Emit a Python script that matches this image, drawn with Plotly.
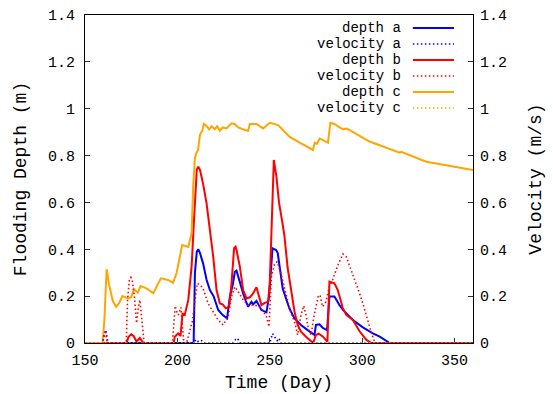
import plotly.graph_objects as go

# ---------------- data ----------------
depth_a_x = [150, 208.8, 209.5, 210.5, 211.3, 212.2, 213.9, 215.8, 217.6, 219.7, 222.1, 224.4, 226.9,
             228.4, 230, 231.1, 232, 233.8, 235.6, 237, 238.3, 240.1, 241, 242.8, 244, 245.5, 248.2,
             249.6, 251.5, 253.4, 254.3, 255.2, 256.1, 257, 258.8, 260.6, 263.4, 266.9, 270.5, 273.2,
             274.2, 275, 276.9, 278.6, 281, 282.3, 285, 287.7, 289.6, 292.3, 295, 300.4, 305.8, 309.5,
             314.9, 360]
depth_a_y = [0, 0, 0.3, 0.39, 0.40, 0.385, 0.34, 0.27, 0.226, 0.198, 0.141, 0.12, 0.105,
             0.198, 0.25, 0.304, 0.309, 0.255, 0.212, 0.18, 0.155, 0.176, 0.165, 0.18, 0.16, 0.141, 0.131,
             0.198, 0.404, 0.397, 0.385, 0.333, 0.276, 0.233, 0.19, 0.148, 0.105, 0.077, 0.055, 0.041,
             0.034, 0.077, 0.08, 0.065, 0.055, 0.198, 0.198, 0.162, 0.141, 0.12, 0.098, 0.067, 0.041, 0.027,
             0.0, 0]

vel_a_x = [150, 159.5, 160.5, 161.3, 162, 162.5, 209, 210, 211.5, 213, 215, 230, 231.5, 232.5, 234,
           250, 251.5, 252.5, 254, 255, 256, 360]
vel_a_y = [0, 0, 0.04, 0.055, 0.02, 0, 0, 0.015, 0.005, 0.01, 0, 0, 0.015, 0.02, 0,
           0, 0.04, 0.03, 0.01, 0.02, 0, 0]

depth_b_x = [150, 172.5, 173.5, 175, 176.3, 177.9, 179.7, 181.5, 198, 198.6, 200.4, 201.7, 202.8, 204,
             205.9, 207.7, 209.1, 210.5, 211.3, 212.2, 213.9, 215.8, 217.6, 219.4, 221.2, 223, 224.5,
             226.2, 228, 229.3, 230.7, 231.5, 232, 233.8, 235.6, 237.4, 239.2, 241, 242.8, 244.2, 245.5,
             247, 249.1, 250, 251.2, 252.2, 253.6, 255, 256.5, 257.9, 259.7, 261.5, 263.4, 265.1, 266.9,
             269.6, 272.3, 273.5, 275, 276.5, 278.8, 281.2, 282.3, 285, 286.8, 289.5, 291.4, 295, 298.6,
             302.3, 305, 360]
depth_b_y = [0, 0, 0.025, 0.037, 0.03, 0.006, 0.022, 0, 0, 0.027, 0.041, 0.03, 0.127, 0.12,
             0.184, 0.326, 0.54, 0.74, 0.752, 0.74, 0.68, 0.596, 0.482, 0.368, 0.226, 0.169, 0.165,
             0.148, 0.155, 0.255, 0.405, 0.411, 0.397, 0.326, 0.226, 0.19, 0.195, 0.212, 0.238, 0.198, 0.162,
             0.17, 0.176, 0.255, 0.6, 0.781, 0.71, 0.6, 0.53, 0.46, 0.32, 0.22, 0.134, 0.077, 0.048,
             0.027, 0.008, 0, 0.034, 0.04, 0.027, 0.005, 0.262, 0.255, 0.226, 0.15, 0.12, 0.098, 0.05,
             0.013, 0, 0]

vel_b_x = [150, 159.5, 160.5, 161.2, 162, 172.3, 173, 174, 174.8, 175.5, 176.7, 177.9, 178.8, 179.7,
           180.6, 181.5, 182, 197.3, 198, 198.8, 199.8, 200.5, 201.9, 202.8, 203.5, 205, 206.5, 208,
           209.5, 210.8, 212.2, 213.9, 216.6, 219.4, 222.1, 224.8, 227.5, 229.3, 231.1, 232.9, 235.6,
           238.3, 241.9, 245.5, 248.2, 249.6, 250.9, 252.7, 254, 255.8, 257.6, 259.4, 261.2, 263.4,
           265.1, 266.9, 268.4, 269.6, 270.9, 272.3, 274.4, 276.2, 277.2, 278.6, 280.4, 282.2, 284,
           286.9, 289.6, 291.4, 293.2, 295, 296.8, 298.6, 300.4, 302.3, 304, 306, 307, 360]
vel_b_y = [0, 0, 0.03, 0.045, 0, 0, 0.18, 0.27, 0.28, 0.27, 0.2, 0.085, 0.15, 0.184,
           0.112, 0.027, 0, 0, 0.1, 0.158, 0.13, 0.12, 0.152, 0.05, 0, 0, 0.05, 0.09,
           0.18, 0.255, 0.248, 0.233, 0.169, 0.134, 0.098, 0.077, 0.112, 0.198, 0.24, 0.219, 0.184,
           0.162, 0.162, 0.148, 0.112, 0.07, 0.283, 0.34, 0.347, 0.304, 0.248, 0.19, 0.134, 0.091,
           0.034, 0.12, 0.159, 0.12, 0.06, 0.034, 0.134, 0.198, 0.205, 0.155, 0.176, 0.24, 0.269,
           0.333, 0.38, 0.368, 0.33, 0.297, 0.255, 0.212, 0.169, 0.112, 0.07, 0.02, 0, 0]

depth_c_x = [150, 159.5, 160.5, 161.7, 163, 165, 166.8, 168.5, 170.2, 172, 173.4, 175, 176.5, 178.6,
             180.1, 183.3, 187, 189, 191.1, 195, 197.7, 199.6, 201, 202.6, 205.9, 207.7, 208.5, 209.5,
             210.2, 211.2, 212.2, 213.6, 214.3, 215.8, 217.2, 218.5, 220.3, 221.5, 223, 224.5, 226.6,
             229.3, 231, 232.9, 236.5, 238.3, 239.2, 242.8, 246.4, 250, 254.5, 260.8, 266.2, 269.8,
             273.4, 274.3, 275.5, 277, 279.7, 281.5, 282.8, 285, 287, 289.6, 291.4, 293, 304, 320.3,
             321.2, 334.7, 360]
depth_c_y = [0, 0, 0.1, 0.315, 0.25, 0.18, 0.155, 0.17, 0.20, 0.195, 0.19, 0.195, 0.23, 0.215,
             0.243, 0.233, 0.212, 0.245, 0.276, 0.269, 0.257, 0.30, 0.36, 0.418, 0.41, 0.468, 0.66, 0.79,
             0.81, 0.824, 0.888, 0.909, 0.935, 0.926, 0.912, 0.925, 0.912, 0.925, 0.906, 0.92, 0.916,
             0.938, 0.935, 0.92, 0.909, 0.906, 0.935, 0.935, 0.916, 0.94, 0.93, 0.88, 0.855, 0.841,
             0.824, 0.855, 0.85, 0.873, 0.864, 0.855, 0.94, 0.935, 0.925, 0.912, 0.915, 0.91, 0.86, 0.812,
             0.816, 0.774, 0.738]

vel_c_x = [150, 360]
vel_c_y = [0, 0]

y_ticks = [0, 0.2, 0.4, 0.6, 0.8, 1.0, 1.2, 1.4]
y_tick_text = ["0", "0.2", "0.4", "0.6", "0.8", "1", "1.2", "1.4"]
x_ticks = [150, 200, 250, 300, 350]

series = [
    ("depth a", depth_a_x, depth_a_y, "#0000ff", "solid", "y"),
    ("velocity a", vel_a_x, vel_a_y, "#0000ff", "dot", "y2"),
    ("depth b", depth_b_x, depth_b_y, "#ff0000", "solid", "y"),
    ("velocity b", vel_b_x, vel_b_y, "#ff0000", "dot", "y2"),
    ("depth c", depth_c_x, depth_c_y, "#ffa500", "solid", "y"),
    ("velocity c", vel_c_x, vel_c_y, "#ffa500", "dot", "y2"),
]

FONT = "Liberation Mono, Courier New, monospace"
FS = 15
LEG_FS = 14
DOT = "1.5px,2.5px"

fig = go.Figure()
for name, xs, ys, col, style, ax in series:
    dash = "solid" if style == "solid" else DOT
    fig.add_trace(go.Scatter(x=xs, y=ys, name=name, mode="lines", yaxis=ax,
                             line=dict(color=col, width=2 if style == "solid" else 1.6, dash=dash),
                             showlegend=False))

# custom gnuplot-style legend (text right, sample on its right); rows 16 px apart
PLOT_H = 394 - 15 - 51
row_px = [28, 44, 60, 76, 92, 108]
row_y = [(343 - p) / PLOT_H for p in row_px]
for (name, xs, ys, col, style, ax), ry in zip(series, row_y):
    fig.add_annotation(xref="paper", yref="paper", x=0.817, y=ry, text=name, showarrow=False,
                       xanchor="right", yanchor="middle", borderpad=0,
                       font=dict(family=FONT, size=LEG_FS, color="black"))
    fig.add_shape(type="line", xref="paper", yref="paper", x0=0.845, x1=0.951, y0=ry, y1=ry,
                  line=dict(color=col, width=2 if style == "solid" else 1.6,
                            dash="solid" if style == "solid" else DOT))

fig.update_layout(
    width=553, height=394,
    margin=dict(l=85, r=80, t=15, b=51, autoexpand=False),
    paper_bgcolor="white", plot_bgcolor="white",
    font=dict(family=FONT, size=FS, color="black"),
    xaxis=dict(range=[150, 360], tickvals=x_ticks, ticks="inside", ticklen=5, tickcolor="#333",
               showline=True, linecolor="black", linewidth=1, mirror=True, showgrid=False,
               zeroline=False, ticklabelstandoff=3, automargin=False,
               title=dict(text="Time (Day)", standoff=6), layer="below traces"),
    yaxis=dict(range=[0, 1.4], tickvals=y_ticks, ticktext=y_tick_text, ticks="inside", ticklen=5,
               tickcolor="#333", showline=True, linecolor="black", linewidth=1, mirror=True,
               showgrid=False, zeroline=False, ticklabelstandoff=6, automargin=False,
               title=dict(text="Flooding Depth (m)", standoff=16), layer="below traces"),
    yaxis2=dict(range=[0, 1.4], tickvals=y_ticks, ticktext=y_tick_text, ticks="inside", ticklen=5,
                tickcolor="#333", overlaying="y", side="right", showline=False, showgrid=False,
                zeroline=False, ticklabelstandoff=6, automargin=False,
                title=dict(text="Velocity (m/s)", standoff=22)),
)

fig.write_html("out.html")
